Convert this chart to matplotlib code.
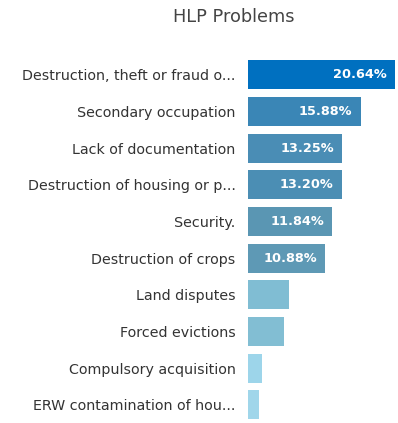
import matplotlib.pyplot as plt

plt.rcParams['font.family'] = ['DejaVu Sans']

# --- data
categories = [
    "Destruction, theft or fraud o...",
    "Secondary occupation",
    "Lack of documentation",
    "Destruction of housing or p...",
    "Security.",
    "Destruction of crops",
    "Land disputes",
    "Forced evictions",
    "Compulsory acquisition",
    "ERW contamination of hou...",
]
values = [20.64, 15.88, 13.25, 13.20, 11.84, 10.88, 5.7, 5.1, 2.0, 1.5]
value_labels = ["20.64%", "15.88%", "13.25%", "13.20%", "11.84%", "10.88%",
                None, None, None, None]
colors = ["#0070c0", "#3a86b6", "#4a8db5", "#4b8eb4", "#5a96b3",
          "#5e99b5", "#80bdd3", "#82bed3", "#9dd5ea", "#a0d6ea"]
# ---

fig = plt.figure(figsize=(3.98, 4.23), dpi=100)
ax = fig.add_axes([248 / 398, 0.0, 150 / 398, 1 - 56.5 / 423])

ypos = list(range(len(categories)))
ax.barh(ypos, values, height=0.79, color=colors)
ax.set_xlim(0, 21.1)
ax.set_ylim(len(categories) - 0.5, -0.5)

ax.set_yticks(ypos)
ax.set_yticklabels(categories, fontsize=10.3, color="#333333")
ax.tick_params(axis="y", length=0, pad=9)
ax.set_xticks([])
for s in ax.spines.values():
    s.set_visible(False)

# percentage labels inside the top six bars
for y, v, lab in zip(ypos, values, value_labels):
    if lab:
        ax.annotate(lab, (v, y), xytext=(-6, 0), textcoords="offset points",
                    ha="right", va="center", color="white",
                    fontsize=9.3, fontweight="bold")

fig.text(234 / 398, 1 - 17 / 423, "HLP Problems", ha="center", va="center",
         fontsize=12.8, color="#444444")

fig.savefig("out.png", dpi=100)
